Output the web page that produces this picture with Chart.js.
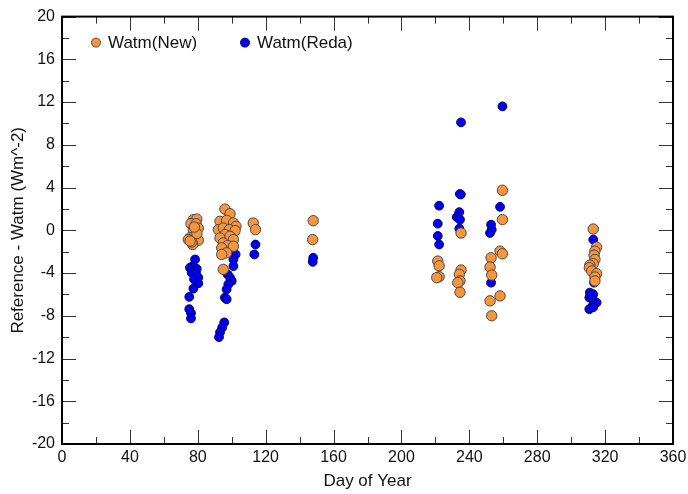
<!DOCTYPE html>
<html>
<head>
<meta charset="utf-8">
<script src="https://cdn.jsdelivr.net/npm/chart.js@4.4.1/dist/chart.umd.min.js"></script>
<style>
  html, body { margin: 0; padding: 0; background: #fff; }
  #wrap { width: 688px; height: 494px; }
</style>
</head>
<body>
<div id="wrap"><canvas id="chart" width="688" height="494"></canvas></div>
<script>
// Watm(New) points
const newDays = [
  77.4, 79.4, 76, 79, 80.3, 77.4, 75.4, 78.4, 80.3, 77, 74.4, 76.5, 79.5, 78, 75.5,
  96, 99, 93.1, 97, 101, 102.5, 92.1, 95, 98.6, 102, 96, 93.1, 99, 101, 95, 97.6, 94.1, 101, 97, 94.1, 95,
  112.7, 114, 148, 147.7,
  259.5, 259.5, 235.1, 258.1, 259.5, 221.4, 222.2, 222.2, 220.8, 252.8, 252.2, 253.2,
  235.1, 234.1, 234.5, 233.2, 234.5, 258.1, 252.2, 253.2,
  313, 315, 314, 313.5, 314, 313, 311, 310.7, 312.1, 315, 314, 314
];
const newValues = [
  1.0, 1.05, 0.62, 0.62, 0.2, 0.06, -0.7, -0.8, -0.93, -1.33, -0.87, -1.1, -0.3, 0.3, -1.0,
  1.98, 1.55, 0.84, 0.93, 0.68, 0.37, 0.06, 0.21, 0.06, -0.03, -0.4, -0.72, -0.56, -0.87, -1.18, -1.43, -1.65, -1.49, -2.11, -2.26, -3.66,
  0.68, 0.06, 0.9, -0.87,
  3.75, 1.0, -0.25, -1.95, -2.2, -2.88, -3.32, -4.34, -4.43, -2.57, -3.44, -4.19,
  -3.72, -4.12, -4.74, -4.9, -5.8, -6.14, -6.6, -8.0,
  0.12, -1.58, -1.95, -2.33, -2.73, -3.13, -3.26, -3.5, -3.81, -4.06, -4.37, -4.74
];

// Watm(Reda) points
const redaDays = [
  78.4, 77, 75.4, 77.8, 79.4, 76.4, 79, 80.3, 77.8, 80.3, 77.4, 75, 75, 76, 76,
  102.3, 101, 101, 97.6, 99, 100, 98, 97, 96, 97, 95.6, 94.4, 93.1, 92.5,
  114, 113.3, 148, 147.7,
  259.5, 235.1, 222.2, 235, 234.4, 258.1, 221.4, 234.1, 232.6, 234.5, 252.8, 253.2, 252.2,
  221.4, 222.2, 234.1, 252.8,
  313, 313.5, 311, 313, 310.7, 312.7, 315, 312.7, 310.7, 313
];
const redaValues = [
  -2.73, -3.35, -3.5, -3.5, -3.6, -3.97, -4.03, -4.43, -4.59, -4.96, -5.46, -6.23, -7.38, -7.75, -8.25,
  -2.26, -2.73, -3.35, -4.12, -4.43, -4.74, -5.05, -5.52, -6.3, -6.45, -8.62, -9.09, -9.55, -10.0,
  -1.33, -2.26, -2.57, -2.95,
  11.6, 10.1, 2.3, 3.35, 3.4, 2.2, 0.62, 1.7, 1.24, 1.0, 0.53, 0.06, -0.25,
  -0.53, -1.33, 0.16, -4.9,
  -0.87, -4.9, -5.83, -5.98, -6.3, -6.45, -6.76, -7.07, -7.38, -7.2
];

const seriesNames = ["Watm(New)", "Watm(Reda)"];

function toPoints(xs, ys) {
  return xs.map((x, i) => ({ x: x, y: ys[i] }));
}

const fontFamily = "'Liberation Sans', Arial, sans-serif";
const tickFont = { family: fontFamily, size: 16 };
const titleFont = { family: fontFamily, size: 17 };

// frame plus inward major/minor ticks on all four sides
const frameTicks = {
  id: "frameTicks",
  afterDraw(chart) {
    const ctx = chart.ctx;
    const a = chart.chartArea;
    const xs = chart.scales.x;
    const ys = chart.scales.y;
    ctx.save();
    ctx.strokeStyle = "#333";
    ctx.lineWidth = 1;
    ctx.beginPath();
    for (let v = 0; v <= 360; v += 20) {
      const px = Math.round(xs.getPixelForValue(v)) + 0.5;
      const len = v % 40 === 0 ? 14 : 7;
      ctx.moveTo(px, a.bottom);
      ctx.lineTo(px, a.bottom - len);
      ctx.moveTo(px, a.top);
      ctx.lineTo(px, a.top + len);
    }
    for (let v = -20; v <= 20; v += 2) {
      const py = Math.round(ys.getPixelForValue(v)) + 0.5;
      const len = v % 4 === 0 ? 14 : 7;
      ctx.moveTo(a.left, py);
      ctx.lineTo(a.left + len, py);
      ctx.moveTo(a.right, py);
      ctx.lineTo(a.right - len, py);
    }
    ctx.stroke();
    ctx.strokeStyle = "#000";
    ctx.lineWidth = 2;
    ctx.strokeRect(a.left, a.top, a.right - a.left, a.bottom - a.top);
    ctx.restore();
  }
};

// one-row legend inside the top-left corner of the plot
const insideLegend = {
  id: "insideLegend",
  afterDraw(chart) {
    const ctx = chart.ctx;
    const a = chart.chartArea;
    const y = a.top + 26;
    const starts = [a.left + 34, a.left + 183];
    ctx.save();
    ctx.font = "17px " + fontFamily;
    ctx.textBaseline = "middle";
    chart.data.datasets.forEach((ds, i) => {
      const x = starts[i];
      ctx.beginPath();
      ctx.arc(x, y, 4.5, 0, Math.PI * 2);
      ctx.fillStyle = ds.backgroundColor;
      ctx.fill();
      ctx.lineWidth = 1;
      ctx.strokeStyle = ds.borderColor;
      ctx.stroke();
      ctx.fillStyle = "#111";
      ctx.fillText(ds.label, x + 12, y + 1);
    });
    ctx.restore();
  }
};

new Chart(document.getElementById("chart").getContext("2d"), {
  type: "scatter",
  data: {
    datasets: [
      {
        label: seriesNames[0],
        data: toPoints(newDays, newValues),
        backgroundColor: "#f7953d",
        borderColor: "#4a4a4a",
        borderWidth: 1,
        pointRadius: 5.2,
        pointHoverRadius: 5.2
      },
      {
        label: seriesNames[1],
        data: toPoints(redaDays, redaValues),
        backgroundColor: "#0000f5",
        borderColor: "#000060",
        borderWidth: 1,
        pointRadius: 4.4,
        pointHoverRadius: 4.4
      }
    ]
  },
  options: {
    responsive: false,
    animation: false,
    layout: { padding: { top: 14, right: 15, left: 0, bottom: 0 } },
    plugins: {
      tooltip: { enabled: false },
      legend: { display: false }
    },
    scales: {
      x: {
        type: "linear",
        min: 0,
        max: 360,
        grid: { display: false, drawTicks: false },
        border: { display: false },
        ticks: { stepSize: 40, color: "#111", font: tickFont, padding: 4, maxRotation: 0 },
        title: { display: true, text: "Day of Year", color: "#111", font: titleFont, padding: { top: 2, bottom: 2 } },
        afterFit(scale) {
          scale.height = 50;
          scale.paddingLeft = 0;
          scale.paddingRight = 0;
        }
      },
      y: {
        min: -20,
        max: 20,
        grid: { display: false, drawTicks: false },
        border: { display: false },
        ticks: { stepSize: 4, color: "#111", font: tickFont, padding: 7 },
        title: { display: true, text: "Reference - Watm (Wm^-2)", color: "#111", font: titleFont, padding: { top: 8, bottom: 0 } },
        afterFit(scale) { scale.width = 62; }
      }
    }
  },
  plugins: [frameTicks, insideLegend]
});
</script>
</body>
</html>
